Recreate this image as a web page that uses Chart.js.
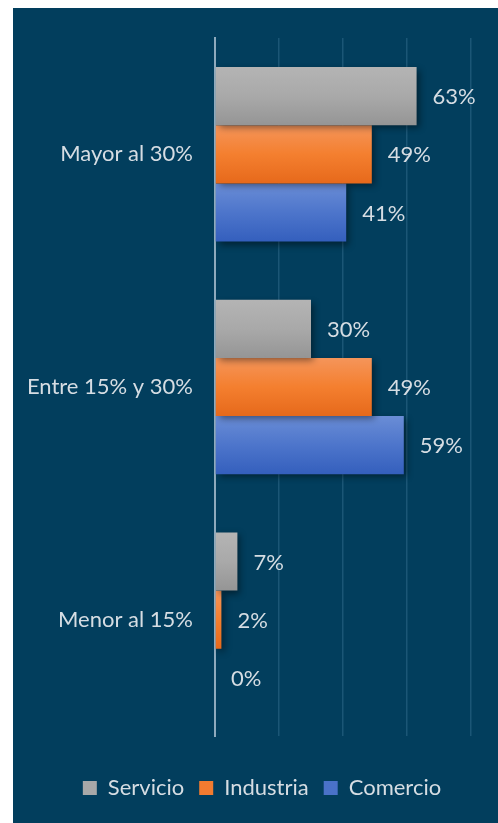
<!DOCTYPE html>
<html>
<head>
<meta charset="utf-8">
<script src="https://cdn.jsdelivr.net/npm/chart.js@4/dist/chart.umd.min.js"></script>
<style>
  html, body { margin: 0; padding: 0; background: #ffffff; }
  #wrap { position: absolute; left: 13px; top: 8px; width: 485px; height: 815px; background: #023e5d; }
</style>
</head>
<body>
<div id="wrap"><canvas id="c"></canvas></div>
<script>
const categories = ['Mayor al 30%', 'Entre 15% y 30%', 'Menor al 15%'];
const seriesNames = ['Servicio', 'Industria', 'Comercio'];
const servicio = [63, 30, 7];
const industria = [49, 49, 2];
const comercio = [41, 59, 0];
const xTicks = [0, 20, 40, 60, 80];

const FONT = 'Lato';
const FSIZE = 22;
const TEXT = '#d6dde3';

const gradStops = [
  ['#b4b4b4', '#a9a9a9', '#959595'],
  ['#f5955a', '#f47f2f', '#e6691b'],
  ['#6a8dd6', '#4d75cb', '#345fbd']
];
const solid = ['#a8a8a8', '#f27b30', '#4a72c8'];

const barPlugin = {
  id: 'barDeco',
  afterLayout(chart) {
    const lg = chart.legend;
    if (lg) { lg.left += 20; lg.right += 20; }
  },
  beforeDatasetsDraw(chart) {
    const ctx = chart.ctx;
    chart.data.datasets.forEach((ds, di) => {
      const meta = chart.getDatasetMeta(di);
      meta.data.forEach(el => {
        const top = el.y - el.height / 2, bot = el.y + el.height / 2;
        const g = ctx.createLinearGradient(0, top, 0, bot);
        g.addColorStop(0, gradStops[di][0]);
        g.addColorStop(0.5, gradStops[di][1]);
        g.addColorStop(1, gradStops[di][2]);
        el.options = Object.assign({}, el.options, { backgroundColor: g });
      });
    });
    ctx.save();
    ctx.shadowColor = 'rgba(0,0,0,0.45)';
    ctx.shadowBlur = 7;
    ctx.shadowOffsetX = 3;
    ctx.shadowOffsetY = 3;
  },
  afterDatasetsDraw(chart) {
    const ctx = chart.ctx;
    ctx.restore();
    ctx.save();
    ctx.font = FSIZE + 'px ' + FONT;
    ctx.fillStyle = TEXT;
    ctx.textAlign = 'left';
    ctx.textBaseline = 'middle';
    chart.data.datasets.forEach((ds, di) => {
      const meta = chart.getDatasetMeta(di);
      meta.data.forEach((el, i) => {
        ctx.fillText(ds.data[i] + '%', el.x + 16, el.y + 1);
      });
    });
    ctx.restore();
  }
};

new Chart(document.getElementById('c'), {
  type: 'bar',
  data: {
    labels: categories,
    datasets: [
      { label: seriesNames[0], data: servicio, backgroundColor: solid[0] },
      { label: seriesNames[1], data: industria, backgroundColor: solid[1] },
      { label: seriesNames[2], data: comercio, backgroundColor: solid[2] }
    ]
  },
  options: {
    indexAxis: 'y',
    responsive: true,
    maintainAspectRatio: false,
    animation: false,
    categoryPercentage: 0.75,
    barPercentage: 1.0,
    layout: { padding: { top: 30, right: 27, bottom: 14, left: 0 } },
    scales: {
      x: {
        min: 0, max: 80,
        afterBuildTicks(scale) { scale.ticks = xTicks.map(v => ({ value: v })); },
        ticks: { display: false },
        grid: {
          drawTicks: false,
          color: ctx => ctx.tick && ctx.tick.value === 0 ? 'rgba(0,0,0,0)' : '#1b5676',
          lineWidth: 1.5
        },
        border: { display: false },
        afterFit(scale) { scale.height = 26; scale.paddingLeft = 0; scale.paddingRight = 0; }
      },
      y: {
        z: 1,
        grid: { display: false, drawTicks: false },
        border: { display: true, color: '#8eaabd', width: 2 },
        ticks: { color: TEXT, font: { family: FONT, size: FSIZE }, padding: 22 },
        afterFit(scale) { scale.width = 202; scale.paddingTop = 0; scale.paddingBottom = 0; }
      }
    },
    plugins: {
      legend: {
        position: 'bottom',
        labels: {
          color: TEXT,
          font: { family: FONT, size: FSIZE },
          boxWidth: 14,
          boxHeight: 14,
          padding: 15
        }
      },
      tooltip: { enabled: false }
    }
  },
  plugins: [barPlugin]
});
</script>
</body>
</html>
